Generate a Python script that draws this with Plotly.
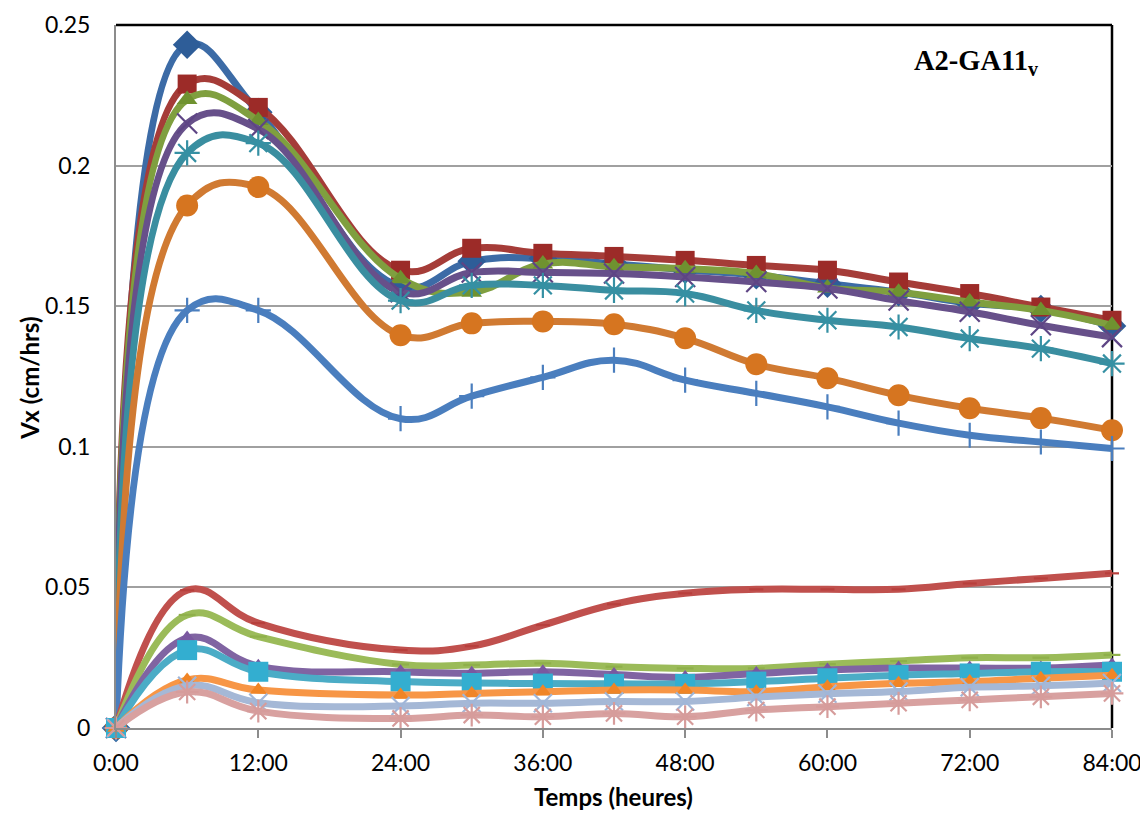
import plotly.graph_objects as go

# Time (hours)
hours = [0, 6, 12, 24, 30, 36, 42, 48, 54, 60, 66, 72, 78, 84]
tick_vals = [0, 12, 24, 36, 48, 60, 72, 84]
tick_text = ["0:00", "12:00", "24:00", "36:00", "48:00", "60:00", "72:00", "84:00"]
y_ticks = [0, 0.05, 0.1, 0.15, 0.2, 0.25]
y_tick_text = ["0", "0.05", "0.1", "0.15", "0.2", "0.25"]

# Upper group
s_diamond = [0, 0.243, 0.219, 0.157, 0.166, 0.167, 0.165, 0.163, 0.161, 0.158, 0.155, 0.151, 0.149, 0.143]
s_square = [0, 0.229, 0.2207, 0.1628, 0.1706, 0.1688, 0.1677, 0.1663, 0.1645, 0.1628, 0.1586, 0.1545, 0.1497, 0.145]
s_tri_g = [0, 0.2235, 0.216, 0.1598, 0.155, 0.165, 0.164, 0.1633, 0.1616, 0.1565, 0.155, 0.1515, 0.1485, 0.1432]
s_x_purple = [0, 0.215, 0.213, 0.155, 0.162, 0.162, 0.1616, 0.1604, 0.1586, 0.1563, 0.152, 0.148, 0.1432, 0.139]
s_star_teal = [0, 0.2045, 0.208, 0.152, 0.1574, 0.1574, 0.1556, 0.1545, 0.1485, 0.145, 0.1426, 0.1385, 0.1349, 0.1296]
s_circle = [0, 0.1858, 0.1924, 0.1397, 0.1439, 0.1446, 0.1436, 0.1386, 0.1294, 0.1244, 0.1183, 0.1137, 0.1102, 0.1059]
s_plus = [0, 0.1485, 0.1485, 0.110, 0.118, 0.1247, 0.1308, 0.1237, 0.119, 0.1142, 0.1084, 0.1041, 0.1017, 0.0994]

# Lower group
s_dash_r = [0, 0.049, 0.0373, 0.0277, 0.0291, 0.0366, 0.044, 0.0479, 0.0493, 0.0493, 0.0493, 0.0514, 0.0532, 0.055]
s_dash_g = [0, 0.0402, 0.0325, 0.0226, 0.0224, 0.023, 0.0218, 0.0212, 0.0212, 0.0227, 0.0238, 0.025, 0.025, 0.026]
s_tri_p = [0, 0.032, 0.022, 0.020, 0.0195, 0.020, 0.019, 0.018, 0.0194, 0.0206, 0.0213, 0.0213, 0.0213, 0.0224]
s_square_c = [0, 0.0277, 0.020, 0.0165, 0.016, 0.0158, 0.0157, 0.0157, 0.0165, 0.0177, 0.0188, 0.0194, 0.020, 0.020]
s_tri_o = [0, 0.0171, 0.0135, 0.0117, 0.0123, 0.0129, 0.0135, 0.0135, 0.0129, 0.0147, 0.0159, 0.0165, 0.0177, 0.0188]
s_x_lb = [0, 0.015, 0.009, 0.0078, 0.0088, 0.0088, 0.0094, 0.0094, 0.011, 0.0122, 0.013, 0.0145, 0.015, 0.016]
s_star_pk = [0, 0.0128, 0.006, 0.0034, 0.0046, 0.004, 0.0052, 0.004, 0.0064, 0.0076, 0.0088, 0.010, 0.0111, 0.0123]

series = [
    (s_diamond, "#3C6BA6", "diamond", "#2E5D98", 22, False),
    (s_square, "#A53C38", "square", "#9C2B28", 19, False),
    (s_tri_g, "#7F9F3F", "triangle-up", "#6F9230", 18, False),
    (s_x_purple, "#67508A", "x-thin-open", "#5E4585", 20, True),
    (s_star_teal, "#3A8EA0", "asterisk-open", "#3590A3", 21, True),
    (s_circle, "#D07A32", "circle", "#D67520", 22, False),
    (s_plus, "#4A7EBE", "cross-thin-open", "#4A7EBE", 18, True),
    (s_dash_r, "#C0504D", "line-ew-open", "#B83F3C", 10, True),
    (s_dash_g, "#9BBB59", "line-ew-open", "#8FB04A", 12, True),
    (s_tri_p, "#8064A2", "triangle-up", "#7A58A0", 15, False),
    (s_square_c, "#4BACC6", "square", "#33AED0", 20, False),
    (s_tri_o, "#F79646", "triangle-up", "#F08526", 15, False),
    (s_x_lb, "#A5B8D6", "x-thin-open", "#A0B6D8", 18, True),
    (s_star_pk, "#D8A1A0", "asterisk-open", "#D69C9B", 19, True),
]

fig = go.Figure()
for vals, lc, sym, mc, ms, open_m in series:
    if open_m:
        marker = dict(symbol=sym, size=ms, color=mc, line=dict(color=mc, width=2.2))
    else:
        marker = dict(symbol=sym, size=ms, color=mc, line=dict(color=mc, width=0))
    fig.add_trace(go.Scatter(
        x=hours, y=vals, mode="lines+markers",
        line=dict(color=lc, width=7, shape="spline", smoothing=1.2),
        marker=marker, showlegend=False, cliponaxis=False,
    ))

# Page body has an 8px margin: size the figure so it fits the 1148x818 window.
fig.update_layout(
    width=1140, height=802,
    margin=dict(l=108, r=36, t=16.5, b=82, autoexpand=False),
    paper_bgcolor="white", plot_bgcolor="white",
    font=dict(family="Lato, Calibri, sans-serif", size=22, color="black"),
    xaxis=dict(
        range=[0, 84], tickvals=tick_vals, ticktext=tick_text,
        showgrid=False, zeroline=False, automargin=False,
        showline=True, linecolor="#8C8C8C", linewidth=2,
        ticks="outside", ticklen=8, tickcolor="#8C8C8C", tickwidth=2,
        tickfont=dict(size=23), ticklabelstandoff=5, ticklabeloverflow="allow",
    ),
    yaxis=dict(
        range=[0, 0.25], tickvals=y_ticks, ticktext=y_tick_text,
        showgrid=True, gridcolor="#A0A0A0", gridwidth=2,
        zeroline=False, automargin=False,
        showline=True, linecolor="#8C8C8C", linewidth=2,
        ticks="", tickfont=dict(size=23), ticklabelstandoff=19, ticklabeloverflow="allow",
    ),
    shapes=[
        dict(type="line", xref="x domain", yref="y domain", x0=0, x1=1, y0=1, y1=1,
             line=dict(color="black", width=2.5), layer="above"),
        dict(type="line", xref="x domain", yref="y domain", x0=1, x1=1, y0=0, y1=1,
             line=dict(color="black", width=2.5), layer="below"),
    ],
    annotations=[
        dict(text="<b>A2-GA11<sub>v</sub></b>", xref="paper", yref="paper",
             x=0.8635, y=0.9467, xanchor="center", yanchor="middle", showarrow=False,
             font=dict(family="Liberation Serif, Times New Roman, serif", size=28.5, color="black")),
        dict(text="<b>Vx (cm/hrs)</b>", xref="paper", yref="paper",
             x=-0.0863, y=0.497, xanchor="center", yanchor="middle", showarrow=False,
             textangle=-90, font=dict(size=24)),
        dict(text="<b>Temps (heures)</b>", xref="paper", yref="paper",
             x=0.499, y=-0.0975, xanchor="center", yanchor="middle", showarrow=False,
             font=dict(size=24)),
    ],
)

fig.write_html("out.html")
